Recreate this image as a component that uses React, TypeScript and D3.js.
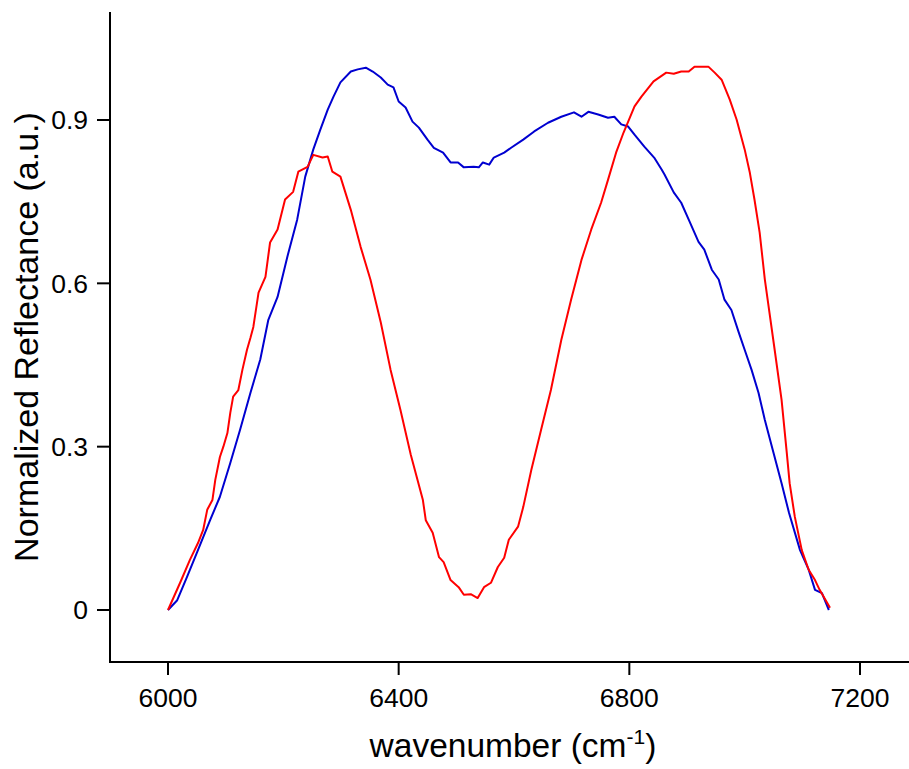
import React from "react";
import * as d3 from "d3";

const xTicks = [6000, 6400, 6800, 7200];
const yTicks = [0, 0.3, 0.6, 0.9];
const yTickLabels = ["0", "0.3", "0.6", "0.9"];

const redWavenumber = [6000, 6021, 6038, 6052, 6061, 6068, 6077, 6082, 6090, 6096, 6103, 6108, 6113, 6122, 6129, 6137, 6143, 6148, 6157, 6169, 6177, 6190, 6203, 6217, 6226, 6242, 6252, 6268, 6277, 6285, 6299, 6317, 6334, 6351, 6369, 6386, 6403, 6421, 6442, 6447, 6459, 6470, 6478, 6490, 6504, 6513, 6525, 6537, 6548, 6560, 6572, 6583, 6591, 6607, 6616, 6630, 6647, 6664, 6682, 6699, 6717, 6734, 6751, 6763, 6777, 6790, 6798, 6809, 6821, 6842, 6864, 6877, 6890, 6903, 6913, 6937, 6948, 6960, 6974, 6986, 7000, 7009, 7017, 7026, 7035, 7043, 7052, 7064, 7073, 7078, 7087, 7099, 7111, 7122, 7130, 7148];
const redReflectance = [0.0, 0.05, 0.092, 0.123, 0.147, 0.184, 0.202, 0.239, 0.281, 0.3, 0.325, 0.362, 0.392, 0.404, 0.441, 0.478, 0.5, 0.52, 0.583, 0.612, 0.675, 0.699, 0.754, 0.768, 0.805, 0.814, 0.836, 0.831, 0.833, 0.805, 0.796, 0.735, 0.667, 0.607, 0.528, 0.441, 0.368, 0.285, 0.202, 0.165, 0.142, 0.097, 0.088, 0.055, 0.042, 0.028, 0.029, 0.022, 0.042, 0.05, 0.079, 0.096, 0.129, 0.153, 0.189, 0.257, 0.331, 0.404, 0.496, 0.57, 0.643, 0.699, 0.748, 0.79, 0.84, 0.877, 0.897, 0.925, 0.943, 0.971, 0.987, 0.985, 0.989, 0.989, 0.998, 0.998, 0.987, 0.974, 0.938, 0.901, 0.846, 0.803, 0.754, 0.693, 0.607, 0.546, 0.478, 0.386, 0.289, 0.233, 0.171, 0.11, 0.074, 0.055, 0.037, 0.004];

const blueWavenumber = [6000, 6016, 6033, 6050, 6073, 6090, 6108, 6125, 6143, 6160, 6174, 6190, 6207, 6224, 6238, 6252, 6264, 6277, 6287, 6299, 6317, 6329, 6343, 6355, 6369, 6381, 6391, 6400, 6412, 6424, 6435, 6450, 6461, 6477, 6490, 6503, 6513, 6530, 6539, 6546, 6557, 6565, 6583, 6595, 6616, 6635, 6659, 6682, 6704, 6717, 6729, 6746, 6763, 6774, 6786, 6798, 6809, 6826, 6843, 6856, 6861, 6877, 6890, 6903, 6920, 6930, 6943, 6955, 6965, 6977, 6990, 7000, 7012, 7024, 7035, 7050, 7064, 7077, 7096, 7111, 7122, 7134, 7146];
const blueReflectance = [0.0, 0.018, 0.061, 0.105, 0.165, 0.208, 0.27, 0.331, 0.399, 0.46, 0.533, 0.575, 0.649, 0.717, 0.796, 0.846, 0.882, 0.919, 0.943, 0.969, 0.989, 0.993, 0.996, 0.989, 0.978, 0.965, 0.96, 0.934, 0.923, 0.897, 0.886, 0.864, 0.849, 0.84, 0.822, 0.822, 0.813, 0.814, 0.813, 0.822, 0.818, 0.831, 0.84, 0.849, 0.864, 0.879, 0.895, 0.906, 0.914, 0.906, 0.915, 0.91, 0.904, 0.906, 0.892, 0.888, 0.873, 0.851, 0.831, 0.809, 0.8, 0.767, 0.748, 0.717, 0.676, 0.662, 0.625, 0.607, 0.57, 0.551, 0.509, 0.478, 0.441, 0.399, 0.349, 0.289, 0.233, 0.178, 0.11, 0.074, 0.037, 0.031, 0.0];

const W = 909;
const H = 769;
const FONT = "'Liberation Sans', Arial, sans-serif";

export default function App() {
  const left = 110;
  const right = 909;
  const top = 12;
  const bottom = 662;
  const x = d3.scaleLinear().domain([6000, 7200]).range([168, 860]);
  const y = d3.scaleLinear().domain([0, 0.9]).range([610, 120]);

  const line = d3
    .line<[number, number]>()
    .x((d) => x(d[0]))
    .y((d) => y(d[1]));

  const red = redWavenumber.map((w, i) => [w, redReflectance[i]] as [number, number]);
  const blue = blueWavenumber.map((w, i) => [w, blueReflectance[i]] as [number, number]);

  return (
    <svg
      width={W}
      height={H}
      style={{ position: "absolute", left: 0, top: 0, background: "#fff" }}
      fontFamily={FONT}
    >
      <rect x={0} y={0} width={W} height={H} fill="#fff" />
      <path d={line(blue) || ""} fill="none" stroke="#0000d0" strokeWidth={2} strokeLinejoin="round" />
      <path d={line(red) || ""} fill="none" stroke="#ff0000" strokeWidth={2} strokeLinejoin="round" />

      {/* axes */}
      <line x1={left} x2={left} y1={top} y2={bottom + 1} stroke="#000" strokeWidth={2} />
      <line x1={left - 1} x2={right} y1={bottom} y2={bottom} stroke="#000" strokeWidth={2} />

      {xTicks.map((t) => (
        <g key={"x" + t}>
          <line x1={x(t)} x2={x(t)} y1={bottom} y2={bottom + 13} stroke="#000" strokeWidth={2} />
          <text x={x(t)} y={707} textAnchor="middle" fontSize={26.5} fill="#000">
            {t}
          </text>
        </g>
      ))}
      {yTicks.map((t, i) => (
        <g key={"y" + t}>
          <line x1={left - 13} x2={left} y1={y(t)} y2={y(t)} stroke="#000" strokeWidth={2} />
          <text x={88} y={y(t)} dy="0.35em" textAnchor="end" fontSize={26.5} fill="#000">
            {yTickLabels[i]}
          </text>
        </g>
      ))}

      <text x={513} y={757} textAnchor="middle" fontSize={33.5} fill="#000">
        wavenumber (cm
        <tspan dy={-13} fontSize={21}>-1</tspan>
        <tspan dy={13}>)</tspan>
      </text>

      <text
        transform="translate(38,337) rotate(-90)"
        textAnchor="middle"
        fontSize={34}
        fill="#000"
      >
        Normalized Reflectance (a.u.)
      </text>
    </svg>
  );
}
